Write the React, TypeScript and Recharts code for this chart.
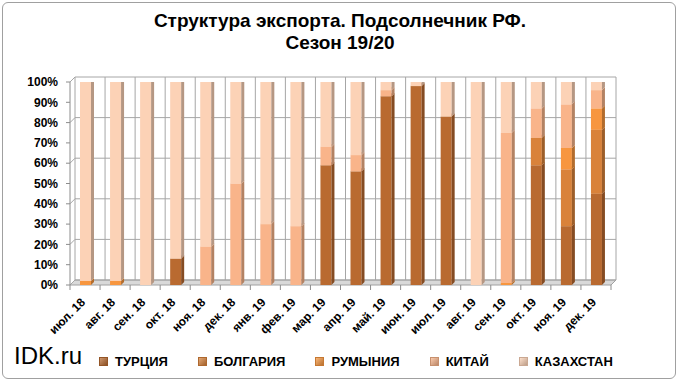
import { BarChart, Bar, XAxis, YAxis, CartesianGrid } from "recharts";

// Export structure, sunflower seed (share of shipments by country, %)
const months = [
  "июл. 18", "авг. 18", "сен. 18", "окт. 18", "ноя. 18", "дек. 18",
  "янв. 19", "фев. 19", "мар. 19", "апр. 19", "май. 19", "июн. 19",
  "июл. 19", "авг. 19", "сен. 19", "окт. 19", "ноя. 19", "дек. 19",
];
const turkey = [0, 0, 0, 13, 0, 0, 0, 0, 59, 56, 93, 98, 83, 0, 0, 59, 29, 45];
const bulgaria = [0, 0, 0, 0, 0, 0, 0, 0, 0, 0, 0, 0, 0, 0, 0, 13.5, 28, 31.5];
const romania = [2, 2, 0, 0, 0, 0, 0, 0, 0, 0, 0, 0, 0, 0, 1, 0, 10.5, 10.5];
const china = [0, 0, 0, 0, 19, 50, 30, 29, 9, 8, 3, 0, 0, 0, 74, 14.5, 21.5, 9];
const kazakhstan = [98, 98, 100, 87, 81, 50, 70, 71, 32, 36, 4, 2, 17, 100, 25, 13, 11, 4];
const yTicks = [0, 10, 20, 30, 40, 50, 60, 70, 80, 90, 100];

const SERIES = [
  { key: "turkey", name: "ТУРЦИЯ", color: "#b96a30", values: turkey },
  { key: "bulgaria", name: "БОЛГАРИЯ", color: "#d9823a", values: bulgaria },
  { key: "romania", name: "РУМЫНИЯ", color: "#f7963f", values: romania },
  { key: "china", name: "КИТАЙ", color: "#f9b48a", values: china },
  { key: "kazakhstan", name: "КАЗАХСТАН", color: "#fcd2b6", values: kazakhstan },
];

const data = months.map((m, i) => {
  const row: Record<string, string | number> = { month: m };
  SERIES.forEach((s) => (row[s.key] = s.values[i]));
  return row;
});

const W = 680;
const H = 384;
const TOP = 82;
const FLOOR = 285;
const XH = 60;
const DEPTH = 5; // back wall offset
const FONT = "'Liberation Sans', Arial, sans-serif";

function shade(hex: string, k: number) {
  const n = parseInt(hex.slice(1), 16);
  const c = [(n >> 16) & 255, (n >> 8) & 255, n & 255].map((v) =>
    Math.max(0, Math.min(255, Math.round(k > 1 ? v + (255 - v) * (k - 1) : v * k)))
  );
  return `rgb(${c[0]},${c[1]},${c[2]})`;
}

// column segment with a little side / top face, like Excel 3D columns
function Column3D(props: any) {
  const { x, y, width, height, fill } = props;
  if (!height || height <= 0) return null;
  const d = 3;
  return (
    <g>
      <rect x={x} y={y} width={width} height={height} fill={fill} />
      <polygon
        points={`${x + width},${y} ${x + width + d},${y - d} ${x + width + d},${y + height - d} ${x + width},${y + height}`}
        fill={shade(fill, 0.72)}
      />
      <polygon
        points={`${x},${y} ${x + d},${y - d} ${x + width + d},${y - d} ${x + width},${y}`}
        fill={shade(fill, 1.25)}
      />
    </g>
  );
}

function HLine(props: any) {
  const { x1, y1, x2, index } = props;
  const isFloor = Math.abs(y1 - FLOOR) < 1;
  return (
    <g key={`h-${index}`}>
      {isFloor && (
        <polygon
          points={`${x1},${y1} ${x2},${y1} ${x2 + DEPTH},${y1 - DEPTH} ${x1 + DEPTH},${y1 - DEPTH}`}
          fill="#d9d9d9"
          stroke="#a0a0a0"
          strokeWidth={1}
        />
      )}
      <line x1={x1 + DEPTH} y1={y1 - DEPTH} x2={x2 + DEPTH} y2={y1 - DEPTH} stroke="#a6a6a6" />
      <line x1={x1} y1={y1} x2={x1 + DEPTH} y2={y1 - DEPTH} stroke="#a6a6a6" />
    </g>
  );
}

function VLine(props: any) {
  const { x1, index } = props;
  return (
    <g key={`v-${index}`}>
      <line x1={x1 + DEPTH} y1={TOP - DEPTH} x2={x1 + DEPTH} y2={FLOOR - DEPTH} stroke="#a6a6a6" />
      <line x1={x1} y1={FLOOR} x2={x1} y2={FLOOR + 5} stroke="#8c8c8c" />
    </g>
  );
}

function MonthTick(props: any) {
  const { x, y, payload } = props;
  const tx = x + 1;
  const ty = y + 16;
  return (
    <text
      x={tx}
      y={ty}
      transform={`rotate(-45 ${tx} ${ty})`}
      textAnchor="end"
      fontSize={12}
      fontWeight="bold"
      fontFamily={FONT}
      fill="#000"
    >
      {payload.value}
    </text>
  );
}

export default function App() {
  return (
    <div style={{ position: "absolute", left: 0, top: 0, width: W, height: H, background: "#fff", fontFamily: FONT }}>
      <div
        style={{
          position: "absolute", left: 2, top: 2, width: W - 6, height: H - 7,
          border: "1px solid #a0a0a0", borderRadius: 6, boxSizing: "border-box",
        }}
      />
      <div
        style={{
          position: "absolute", left: 0, top: 10, width: W, textAlign: "center",
          fontSize: 19, fontWeight: "bold", lineHeight: "22px", color: "#000",
        }}
      >
        Структура экспорта. Подсолнечник РФ.
        <br />
        Сезон 19/20
      </div>

      <div style={{ position: "absolute", left: 0, top: 0 }}>
        <BarChart
          width={W}
          height={H}
          data={data}
          margin={{ top: TOP, right: 69, left: 0, bottom: H - FLOOR - XH }}
          barSize={11}
        >
          <CartesianGrid
            horizontal={HLine}
            vertical={VLine}
            verticalCoordinatesGenerator={({ offset }: any) =>
              months.map((_, i) => offset.left + (i * offset.width) / months.length).concat(offset.left + offset.width)
            }
          />
          <XAxis
            dataKey="month"
            interval={0}
            height={XH}
            axisLine={false}
            tickLine={false}
            tickSize={0}
            tick={<MonthTick />}
          />
          <YAxis
            width={70}
            domain={[0, 100]}
            ticks={yTicks}
            allowDataOverflow
            tickFormatter={(v) => `${v}%`}
            axisLine={{ stroke: "#8c8c8c" }}
            tickLine={{ stroke: "#8c8c8c" }}
            tickSize={4}
            tickMargin={8}
            tick={{ fill: "#000", fontSize: 12, fontWeight: "bold", fontFamily: FONT }}
          />
          {SERIES.map((s) => (
            <Bar
              key={s.key}
              dataKey={s.key}
              name={s.name}
              stackId="a"
              fill={s.color}
              shape={<Column3D />}
              isAnimationActive={false}
            />
          ))}
        </BarChart>
      </div>

      <div style={{ position: "absolute", left: 14, top: 342, fontSize: 24, color: "#000" }}>IDK.ru</div>
      <div
        style={{
          position: "absolute", left: 99, top: 354, display: "flex", alignItems: "center", gap: 30,
          fontSize: 13, fontWeight: "bold", color: "#000",
        }}
      >
        {SERIES.map((s) => (
          <div key={s.key} style={{ display: "flex", alignItems: "center" }}>
            <span
              style={{
                display: "inline-block", width: 7, height: 7, marginRight: 7,
                background: `linear-gradient(135deg, ${shade(s.color, 1.3)}, ${shade(s.color, 0.75)})`,
                border: `1px solid ${shade(s.color, 0.8)}`,
              }}
            />
            {s.name}
          </div>
        ))}
      </div>
    </div>
  );
}
